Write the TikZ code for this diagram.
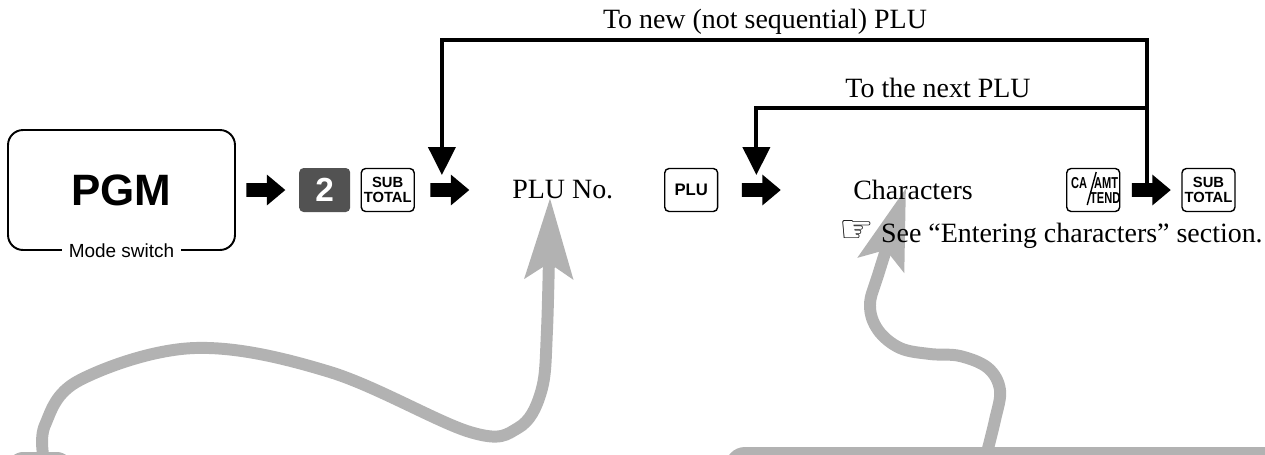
\documentclass[tikz,border=0pt]{standalone}
\usepackage{fontspec}
\setmainfont{Liberation Serif}
\setsansfont{Liberation Sans}
\newfontfamily\dingfont{DejaVu Sans}
\usetikzlibrary{positioning,arrows.meta,shapes.arrows,calc}

\begin{document}
\begin{tikzpicture}[
  x=0.02cm, y=-0.02cm,
  node distance=0.2cm,
  txt/.style={font=\fontsize{15.9}{19}\selectfont, inner sep=0pt},
  keybox/.style={rectangle, draw, line width=0.8pt, rounded corners=2.5pt,
                 minimum width=1.06cm, minimum height=0.86cm, inner sep=0pt,
                 font=\sffamily\bfseries\fontsize{8.4}{9}\selectfont, align=center},
  numkey/.style={rectangle, fill=black!68, rounded corners=2.5pt,
                 minimum width=1.02cm, minimum height=0.88cm, inner sep=0pt,
                 text=white, font=\sffamily\bfseries\fontsize{19}{19}\selectfont},
  keytiny/.style={inner sep=0pt, font=\sffamily\bfseries\fontsize{9}{9}\selectfont},
  blockarrow/.style={single arrow, fill=black, inner sep=0pt,
                     minimum height=0.78cm, single arrow head extend=0.17cm,
                     single arrow tip angle=80},
  loopline/.style={line width=2.3pt, -{Triangle[width=0.54cm,length=0.56cm]}},
  hint/.style={gray!60, line width=6.8pt,
               -{Stealth[length=1.6cm,width=0.95cm,inset=0.3cm]}}
]
  \useasboundingbox (0,0) rectangle (1265,454);

  % grey pointers from the boxes below
  \fill[gray!60, rounded corners=0.4cm] (725,447) rectangle (1320,520);
  \fill[gray!60, rounded corners=0.3cm] (8,452) rectangle (72,520);
  \draw[hint] plot[smooth, tension=0.6] coordinates {(44,460) (45,425) (80,380)
    (195,348) (330,372) (470,432) (518,428) (541,392) (547,330) (550,198)};
  \draw[hint] plot[smooth, tension=0.6] coordinates {(985,460) (995,420) (1000,390)
    (988,368) (960,356) (930,354) (900,348) (878,330) (870,305)
    (879,272) (906,188)};

  % mode switch
  \node[draw, line width=1.1pt, rounded corners=0.3cm, minimum width=4.54cm,
        minimum height=2.4cm, font=\sffamily\bfseries\fontsize{25}{25}\selectfont]
        (pgm) at (121.5,190) {PGM};
  \node[fill=white, inner xsep=4pt, inner ysep=1pt,
        font=\sffamily\fontsize{10.8}{12}\selectfont] (mode) at (pgm.south) {Mode switch};

  % key sequence
  \node[blockarrow, right=0.2cm of pgm]  (a1)   {\rule{0pt}{0.26cm}};
  \node[numkey, right=0.26cm of a1]      (k2)   {2};
  \node[keybox, right=0.2cm of k2]       (ks1)  {SUB\\TOTAL};
  \node[blockarrow, right=0.3cm of ks1]  (a2)   {\rule{0pt}{0.26cm}};
  \node[txt, anchor=west] (pluno) at (512,190) {PLU No.};
  \node[keybox, anchor=west, font=\sffamily\bfseries\fontsize{9.5}{10}\selectfont]
        (kplu) at (664,190) {PLU};
  \node[blockarrow, right=0.46cm of kplu] (a3)  {\rule{0pt}{0.26cm}};
  \node[txt, anchor=west] (chars) at (853,190) {Characters};
  \node[keybox, anchor=west] (kca) at (1066,190) {};
  \node[blockarrow, right=0.22cm of kca] (a4)   {\rule{0pt}{0.26cm}};
  \node[keybox, right=0.2cm of a4]       (ks2)  {SUB\\TOTAL};

  % CA/AMT/TEND legend
  \node[keytiny] (ca)   at ($(kca.center)+(-14,-7)$) {\scalebox{0.7}[1]{CA}};
  \node[keytiny] (amt)  at ($(kca.center)+(13,-7)$)  {\scalebox{0.7}[1]{AMT}};
  \node[keytiny] (tend) at ($(kca.center)+(12,8)$)   {\scalebox{0.7}[1]{TEND}};
  \draw[line width=0.8pt] ($(kca.center)+(-6,15)$) -- ($(kca.center)+(3,-18)$);

  \node[txt, anchor=base east] (see) at (1263,242)
        {{\dingfont\fontsize{22}{22}\selectfont ☞}\ See “Entering characters” section.};

  % repeat loops
  \coordinate (up) at ($(a4.west)+(16,0)$);
  \draw[loopline] (up) -- (up |- 0,40) -| ($(a2.west)+(12,-15)$);
  \draw[loopline] (up |- 0,108) -| ($(a3.west)+(15,-15)$);
  \node[txt, anchor=base] (newlbl)  at (765,28) {To new (not sequential) PLU};
  \node[txt, anchor=base] (nextlbl) at (938,97) {To the next PLU};
\end{tikzpicture}
\end{document}
